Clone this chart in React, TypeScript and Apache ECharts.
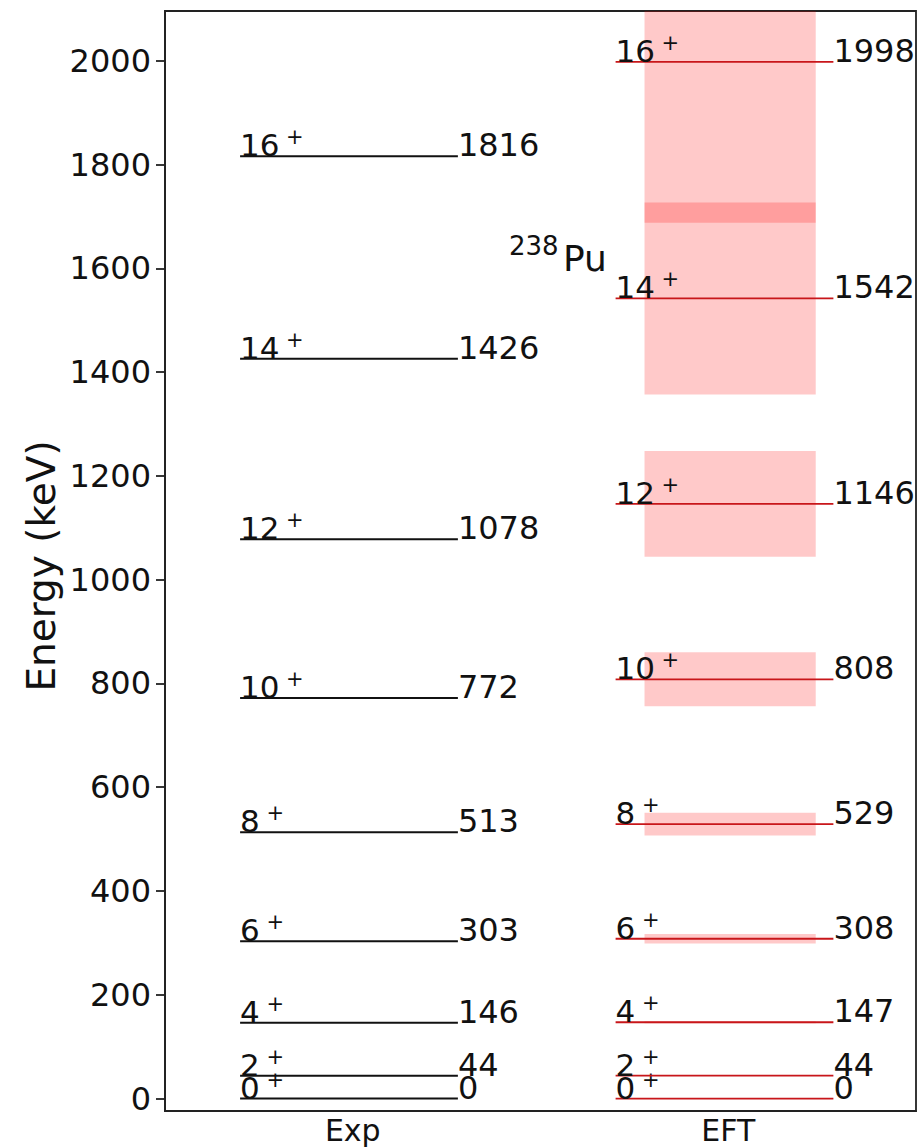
import React, { useEffect, useRef } from "react";
import * as echarts from "echarts";

// ---- data ----
const spins = ["0", "2", "4", "6", "8", "10", "12", "14", "16"];
const expEnergy = [0, 44, 146, 303, 513, 772, 1078, 1426, 1816];
const eftEnergy = [0, 44, 147, 308, 529, 808, 1146, 1542, 1998];
const eftError = [0, 0, 2, 9, 22, 52, 102, 185, 310];
const xCategories = ["Exp", "EFT"];
const yTicks = [0, 200, 400, 600, 800, 1000, 1200, 1400, 1600, 1800, 2000];

// ---- styling constants ----
const FONT = "DejaVu Sans";
const LINE_L = -0.3;
const LINE_R = 0.28;
const BAND_L = -0.223;
const BAND_R = 0.233;
const AXIS_COLOR = "#222";

function makeLevelRender(energies: number[], color: string, width: number) {
  return (params: any, api: any) => {
    const xc = api.value(0);
    const e = api.value(1);
    const a = api.coord([xc + LINE_L, e]);
    const b = api.coord([xc + LINE_R, e]);
    const spin = spins[params.dataIndex];
    const label = String(energies[params.dataIndex]);
    return {
      type: "group",
      children: [
        {
          type: "line",
          shape: { x1: a[0], y1: a[1], x2: b[0], y2: b[1] },
          style: { stroke: color, lineWidth: width },
        },
        {
          type: "text",
          x: a[0],
          y: a[1] - 11,
          style: {
            text: spin,
            fontSize: 31,
            fontFamily: FONT,
            fill: "#111",
            align: "left",
            verticalAlign: "middle",
          },
        },
        {
          type: "text",
          x: a[0] + spin.length * 19.5 + 7,
          y: a[1] - 19,
          style: {
            text: "+",
            fontSize: 21,
            fontFamily: FONT,
            fill: "#111",
            align: "left",
            verticalAlign: "middle",
          },
        },
        {
          type: "text",
          x: b[0],
          y: b[1] - 11,
          style: {
            text: label,
            fontSize: 32,
            fontFamily: FONT,
            fill: "#111",
            align: "left",
            verticalAlign: "middle",
          },
        },
      ],
    };
  };
}

function renderBand(params: any, api: any) {
  const xc = api.value(0);
  const lo = api.value(1);
  const hi = api.value(2);
  if (hi - lo <= 0) return { type: "group", children: [] };
  const p1 = api.coord([xc + BAND_L, hi]);
  const p2 = api.coord([xc + BAND_R, lo]);
  return {
    type: "rect",
    shape: { x: p1[0], y: p1[1], width: p2[0] - p1[0], height: p2[1] - p1[1] },
    style: { fill: "rgba(255,0,0,0.21)" },
  };
}

export default function App() {
  const ref = useRef<HTMLDivElement>(null);

  useEffect(() => {
    if (!ref.current) return;
    const chart = echarts.init(ref.current, undefined, { renderer: "svg" });

    const option: any = {
      animation: false,
      backgroundColor: "#fff",
      grid: {
        left: 165,
        top: 11,
        width: 751,
        height: 1100,
        show: true,
        borderColor: AXIS_COLOR,
        borderWidth: 1.8,
        outerBoundsMode: "none",
      },
      xAxis: {
        type: "value",
        min: -0.5,
        max: 1.5,
        axisLine: { show: true, onZero: false, lineStyle: { color: AXIS_COLOR, width: 1.8 } },
        axisTick: { show: false },
        splitLine: { show: false },
        axisLabel: {
          customValues: [0, 1],
          formatter: (v: number) => xCategories[Math.round(v)],
          fontSize: 30,
          fontFamily: FONT,
          color: "#111",
          margin: 4,
        },
      },
      yAxis: {
        type: "value",
        min: -24,
        max: 2096,
        axisLine: { show: true, onZero: false, lineStyle: { color: AXIS_COLOR, width: 1.8 } },
        axisTick: {
          show: true,
          inside: false,
          length: 9,
          customValues: yTicks,
          lineStyle: { color: AXIS_COLOR, width: 1.8 },
        },
        axisLabel: {
          customValues: yTicks,
          formatter: (v: number) => String(v),
          fontSize: 32,
          fontFamily: FONT,
          color: "#111",
          margin: 14,
        },
        splitLine: { show: false },
      },
      graphic: [
        {
          type: "text",
          x: 41,
          y: 566,
          rotation: Math.PI / 2,
          style: {
            text: "Energy (keV)",
            fontSize: 39,
            fontFamily: FONT,
            fill: "#111",
            align: "center",
            verticalAlign: "middle",
          },
        },
        {
          type: "text",
          x: 509,
          y: 246,
          style: {
            text: "238",
            fontSize: 26,
            fontFamily: FONT,
            fill: "#111",
            align: "left",
            verticalAlign: "middle",
          },
        },
        {
          type: "text",
          x: 563,
          y: 258,
          style: {
            text: "Pu",
            fontSize: 36,
            fontFamily: FONT,
            fill: "#111",
            align: "left",
            verticalAlign: "middle",
          },
        },
      ],
      series: [
        {
          type: "custom",
          name: "EFT band",
          clip: true,
          renderItem: renderBand,
          data: eftEnergy.map((e, i) => [1, e - eftError[i], e + eftError[i]]),
          z: 1,
        },
        {
          type: "custom",
          name: "Exp",
          renderItem: makeLevelRender(expEnergy, "#111", 2),
          data: expEnergy.map((e) => [0, e]),
          z: 2,
        },
        {
          type: "custom",
          name: "EFT",
          renderItem: makeLevelRender(eftEnergy, "#c8161a", 1.8),
          data: eftEnergy.map((e) => [1, e]),
          z: 3,
        },
      ],
    };

    chart.setOption(option);
    return () => chart.dispose();
  }, []);

  return (
    <div
      ref={ref}
      style={{ position: "fixed", left: 0, top: 0, width: 919, height: 1148, background: "#fff" }}
    />
  );
}
